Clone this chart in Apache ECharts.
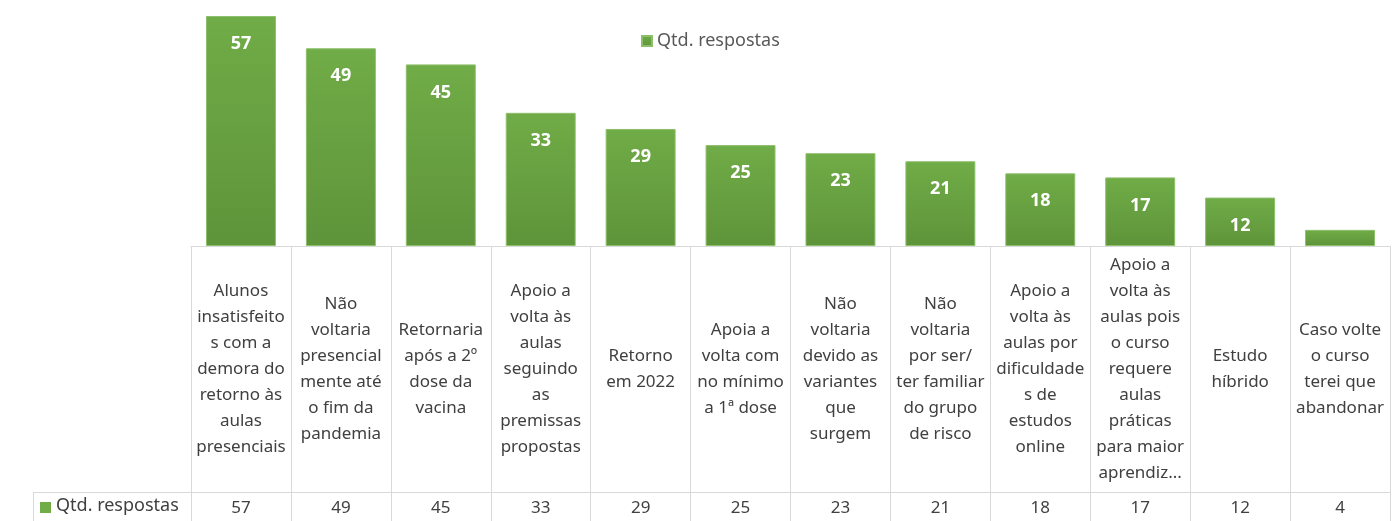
<!DOCTYPE html>
<html>
<head>
<meta charset="utf-8">
<script src="https://cdn.jsdelivr.net/npm/echarts@6/dist/echarts.min.js"></script>
<style>
  html, body { margin: 0; padding: 0; background: #fff; }
  #main { width: 1394px; height: 521px; }
</style>
</head>
<body>
<div id="main"></div>
<script>
var seriesName = 'Qtd. respostas'

// category labels, broken the same way as the source table
var categories = [
  'Alunos\ninsatisfeito\ns com a\ndemora do\nretorno às\naulas\npresenciais',
  'Não\nvoltaria\npresencial\nmente até\no fim da\npandemia',
  'Retornaria\napós a 2º\ndose da\nvacina',
  'Apoio a\nvolta às\naulas\nseguindo\nas\npremissas\npropostas',
  'Retorno\nem 2022',
  'Apoia a\nvolta com\nno mínimo\na 1ª dose',
  'Não\nvoltaria\ndevido as\nvariantes\nque\nsurgem',
  'Não\nvoltaria\npor ser/\nter familiar\ndo grupo\nde risco',
  'Apoio a\nvolta às\naulas por\ndificuldade\ns de\nestudos\nonline',
  'Apoio a\nvolta às\naulas pois\no curso\nrequere\naulas\npráticas\npara maior\naprendiz...',
  'Estudo\nhíbrido',
  'Caso volte\no curso\nterei que\nabandonar'
]

var respostas = [57, 49, 45, 33, 29, 25, 23, 21, 18, 17, 12, 4]

var font = 'Noto Sans'
var textColor = '#404040'
var lineColor = '#d9d9d9'

var chart = echarts.init(document.getElementById('main'))

var option = {
  animation: false,
  textStyle: { fontFamily: font },
  legend: {
    data: [seriesName],
    left: 636,
    top: 27,
    itemWidth: 10,
    itemHeight: 10,
    itemGap: 6,
    icon: 'rect',
    textStyle: { color: '#595959', fontSize: 18, fontFamily: font }
  },
  grid: {
    left: 191,
    right: 4,
    top: 16,
    height: 230
  },
  xAxis: [
    {
      type: 'category',
      data: categories,
      axisLine: { show: true, lineStyle: { color: lineColor, width: 1 } },
      axisTick: { show: true, inside: false, length: 275, lineStyle: { color: lineColor } },
      axisLabel: {
        interval: 0,
        margin: 123,
        verticalAlign: 'middle',
        align: 'center',
        color: textColor,
        fontSize: 17,
        lineHeight: 26,
        fontFamily: font
      }
    },
    {
      type: 'category',
      position: 'bottom',
      offset: 246,
      data: respostas.map(String),
      axisLine: { show: true, lineStyle: { color: lineColor, width: 1 } },
      axisTick: { show: false },
      axisLabel: {
        interval: 0,
        margin: 16,
        verticalAlign: 'middle',
        color: textColor,
        fontSize: 17,
        fontFamily: font
      }
    }
  ],
  yAxis: {
    type: 'value',
    min: 0,
    max: 57,
    show: false,
    splitLine: { show: false }
  },
  graphic: [
    {
      type: 'line',
      shape: { x1: 33, y1: 492.5, x2: 191, y2: 492.5 },
      style: { stroke: lineColor, lineWidth: 1 }
    },
    {
      type: 'line',
      shape: { x1: 33.5, y1: 492, x2: 33.5, y2: 521 },
      style: { stroke: lineColor, lineWidth: 1 }
    },
    {
      type: 'rect',
      shape: { x: 40, y: 502, width: 11, height: 11 },
      style: { fill: '#70ad47' }
    },
    {
      type: 'text',
      left: 56,
      top: 497,
      style: { text: seriesName, fill: textColor, font: '18px "Noto Sans"' }
    }
  ],
  series: [
    {
      name: seriesName,
      type: 'bar',
      xAxisIndex: 0,
      data: respostas,
      barCategoryGap: '30%',
      itemStyle: {
        color: new echarts.graphic.LinearGradient(0, 0, 0, 1, [
          { offset: 0, color: '#70ac47' },
          { offset: 1, color: '#5e943a' }
        ]),
        borderColor: '#8cbf6b',
        borderWidth: 1
      },
      label: {
        show: true,
        position: 'insideTop',
        distance: 19,
        color: '#ffffff',
        fontWeight: 'bold',
        fontSize: 18,
        fontFamily: font,
        formatter: function(p) { return p.value >= 10 ? p.value : '' }
      }
    }
  ]
}

chart.setOption(option)
</script>
</body>
</html>
